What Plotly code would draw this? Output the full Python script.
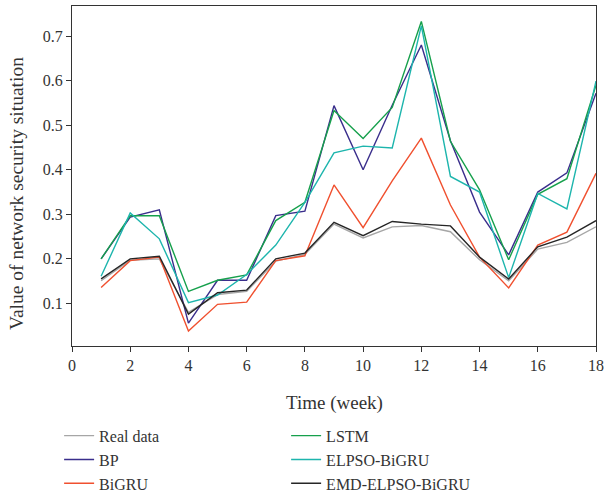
import plotly.graph_objects as go

weeks = list(range(1, 19))
real_data = [0.151, 0.197, 0.200, 0.080, 0.120, 0.127, 0.195, 0.210, 0.278, 0.247, 0.272, 0.275, 0.261, 0.198, 0.151, 0.222, 0.237, 0.272]
bp = [0.200, 0.294, 0.310, 0.056, 0.152, 0.152, 0.297, 0.307, 0.544, 0.400, 0.545, 0.680, 0.465, 0.305, 0.209, 0.350, 0.393, 0.572]
bigru = [0.136, 0.196, 0.204, 0.038, 0.098, 0.103, 0.196, 0.207, 0.366, 0.270, 0.375, 0.471, 0.321, 0.204, 0.135, 0.231, 0.260, 0.392]
lstm = [0.200, 0.297, 0.297, 0.127, 0.152, 0.164, 0.286, 0.327, 0.533, 0.470, 0.540, 0.733, 0.464, 0.355, 0.198, 0.345, 0.380, 0.590]
elpso_bigru = [0.161, 0.303, 0.245, 0.102, 0.119, 0.165, 0.231, 0.327, 0.438, 0.453, 0.449, 0.723, 0.385, 0.350, 0.158, 0.347, 0.312, 0.599]
emd_elpso_bigru = [0.155, 0.200, 0.206, 0.076, 0.124, 0.130, 0.200, 0.213, 0.282, 0.252, 0.284, 0.278, 0.274, 0.204, 0.155, 0.227, 0.249, 0.286]

x_ticks = [0, 2, 4, 6, 8, 10, 12, 14, 16, 18]
y_ticks = [0.1, 0.2, 0.3, 0.4, 0.5, 0.6, 0.7]

series = [
    ("Real data", real_data, "#a6a6a6", 1),
    ("BP", bp, "#3a2e8c", 3),
    ("BiGRU", bigru, "#f0502f", 5),
    ("LSTM", lstm, "#16a04c", 2),
    ("ELPSO-BiGRU", elpso_bigru, "#1db5ad", 4),
    ("EMD-ELPSO-BiGRU", emd_elpso_bigru, "#262626", 6),
]

FONT = "Liberation Serif"
TXT = "#333333"
fig = go.Figure()
for name, vals, color, rank in series:
    fig.add_trace(go.Scatter(
        x=weeks, y=vals, mode="lines", name=name,
        line=dict(color=color, width=1.4),
        legendrank=rank,
    ))

axis_common = dict(
    showgrid=False, zeroline=False, showline=True, linecolor="#333333",
    linewidth=1.2, mirror=True, ticks="outside", ticklen=5, tickwidth=1.2,
    tickcolor="#333333", tickfont=dict(family=FONT, size=16, color=TXT),
    automargin=False,
)

fig.update_layout(
    width=605, height=496,
    margin=dict(l=72, r=9, t=6, b=150, autoexpand=False),
    paper_bgcolor="white", plot_bgcolor="white",
    font=dict(family=FONT, size=16, color=TXT),
    xaxis=dict(range=[0, 18], tickvals=x_ticks, **axis_common),
    yaxis=dict(range=[0.0045, 0.7676], tickvals=y_ticks, **axis_common),
    legend=dict(orientation="h", x=-0.0246, xanchor="left", y=-0.214, yanchor="top",
                entrywidth=182, entrywidthmode="pixels", itemwidth=30,
                font=dict(family=FONT, size=16, color=TXT),
                tracegroupgap=0, traceorder="normal"),
    showlegend=True,
    annotations=[
        dict(text="Time (week)", xref="paper", yref="paper", x=0.5, y=0,
             yshift=-57, xanchor="center", yanchor="middle", showarrow=False,
             font=dict(family=FONT, size=19, color=TXT)),
        dict(text="Value of network security situation", xref="paper", yref="paper",
             x=0, y=0.5, xshift=-56, yshift=-18, textangle=-90,
             xanchor="center", yanchor="middle", showarrow=False,
             font=dict(family=FONT, size=19.5, color=TXT)),
    ],
)

fig.write_html("out.html", config={"displayModeBar": False},
               post_script="document.body.style.margin='0';document.body.style.overflow='hidden';")
